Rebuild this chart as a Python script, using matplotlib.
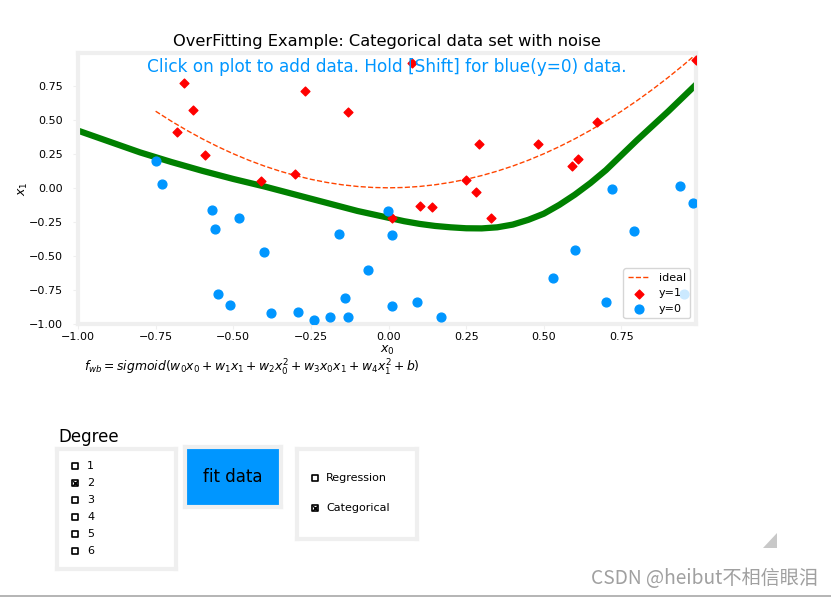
import matplotlib
matplotlib.use("Agg")
import matplotlib.pyplot as plt
from matplotlib.lines import Line2D
from matplotlib.patches import Polygon

dlblue = '#0096ff'
framegray = '#efefef'

# ---- data ----
pos_x0 = [-0.66, -0.63, -0.68, -0.59, -0.41, -0.27, -0.13, -0.30, 0.074, 0.29, 0.48, 0.25,
          0.28, 0.33, 0.10, 0.14, 0.67, 0.61, 0.59, 0.99, 0.01]
pos_x1 = [0.77, 0.57, 0.41, 0.24, 0.05, 0.71, 0.56, 0.10, 0.92, 0.32, 0.32, 0.06,
          -0.03, -0.22, -0.13, -0.14, 0.48, 0.21, 0.16, 0.94, -0.22]

neg_x0 = [-0.75, -0.73, -0.57, -0.56, -0.48, -0.40, -0.55, -0.51, -0.38, -0.29, -0.24, -0.19,
          -0.13, -0.14, -0.16, -0.065, -0.003, 0.01, 0.01, 0.09, 0.17, 0.53, 0.60, 0.70,
          0.72, 0.79, 0.94, 0.98, 0.95]
neg_x1 = [0.20, 0.03, -0.16, -0.30, -0.22, -0.47, -0.78, -0.86, -0.92, -0.91, -0.97, -0.95,
          -0.95, -0.81, -0.34, -0.60, -0.17, -0.35, -0.87, -0.84, -0.95, -0.66, -0.46, -0.84,
          -0.01, -0.32, 0.01, -0.11, -0.78]

ideal_x = [-0.75, -0.7, -0.65, -0.6, -0.55, -0.5, -0.45, -0.4, -0.35, -0.3, -0.25, -0.2,
           -0.15, -0.1, -0.05, 0.0, 0.05, 0.1, 0.15, 0.2, 0.25, 0.3, 0.35, 0.4, 0.45, 0.5,
           0.55, 0.6, 0.65, 0.7, 0.75, 0.8, 0.85, 0.9, 0.95, 1.0]
ideal_y = [0.5625, 0.49, 0.4225, 0.36, 0.3025, 0.25, 0.2025, 0.16, 0.1225, 0.09, 0.0625, 0.04,
           0.0225, 0.01, 0.0025, 0.0, 0.0025, 0.01, 0.0225, 0.04, 0.0625, 0.09, 0.1225, 0.16,
           0.2025, 0.25, 0.3025, 0.36, 0.4225, 0.49, 0.5625, 0.64, 0.7225, 0.81, 0.9025, 1.0]

fit_x = [-1.0, -0.9, -0.8, -0.7, -0.6, -0.5, -0.4, -0.3, -0.2, -0.1, 0.0, 0.05, 0.1, 0.15,
         0.2, 0.25, 0.3, 0.35, 0.4, 0.45, 0.5, 0.55, 0.6, 0.65, 0.7, 0.75, 0.8, 0.85, 0.9,
         0.95, 1.0]
fit_y = [0.42, 0.34, 0.26, 0.19, 0.125, 0.065, 0.01, -0.05, -0.11, -0.17, -0.22, -0.245,
         -0.265, -0.28, -0.29, -0.297, -0.298, -0.29, -0.27, -0.235, -0.19, -0.125, -0.05,
         0.035, 0.13, 0.24, 0.35, 0.455, 0.56, 0.67, 0.78]

degree_labels = ['1', '2', '3', '4', '5', '6']
degree_checked = [False, True, False, False, False, False]
mode_labels = ['Regression', 'Categorical']
mode_checked = [False, True]

title = 'OverFitting Example: Categorical data set with noise'
instr = 'Click on plot to add data. Hold [Shift] for blue(y=0) data.'
formula = r'$f_{wb} = sigmoid(w_0x_0 + w_1x_1 + w_2x_0^2 + w_3x_0x_1 + w_4x_1^2 + b)$'

W, H = 831, 598
fig = plt.figure(figsize=(W / 100, H / 100), dpi=100)


def fx(px):
    return px / W


def fy(py):
    return 1 - py / H


# ---- main axes ----
ax = fig.add_axes([fx(78), fy(324), fx(696) - fx(78), fy(53) - fy(324)])
for s in ax.spines.values():
    s.set_color(framegray)
    s.set_linewidth(3)
ax.tick_params(labelsize=8, color=framegray, length=3.5)
ax.tick_params(axis='y', pad=7.5)
ax.tick_params(axis='x', pad=2.5)
ax.set_xlim(-1.0, 0.99)
ax.set_ylim(-1.0, 0.99)
ax.set_xticks([-1.0, -0.75, -0.5, -0.25, 0.0, 0.25, 0.5, 0.75])
ax.set_yticks([-1.0, -0.75, -0.5, -0.25, 0.0, 0.25, 0.5, 0.75])
ax.set_xlabel('$x_0$', fontsize=9, labelpad=1)
ax.set_ylabel('$x_1$', fontsize=9, labelpad=-1)
ax.set_title(title, fontsize=11.7, pad=5)

ax.plot(ideal_x, ideal_y, '--', color='orangered', lw=1, label='ideal', zorder=2)
ax.plot(fit_x, fit_y, color='green', lw=4.5, zorder=2, solid_joinstyle='round')
ax.scatter(pos_x0, pos_x1, marker='D', s=20, c='red', label='y=1', zorder=3)
ax.scatter(neg_x0, neg_x1, marker='o', s=40, c=dlblue, label='y=0', zorder=3)
ax.text(0.5, 0.948, instr, transform=ax.transAxes, ha='center', va='center',
        fontsize=12.2, color=dlblue, zorder=5)
ax.legend(loc='lower right', fontsize=8)

fig.text(fx(84), fy(368), formula, fontsize=8.9, ha='left', va='center')


# ---- widgets ----
def widget_axes(x0, y0, x1, y1, face='white'):
    a = fig.add_axes([fx(x0), fy(y1), fx(x1) - fx(x0), fy(y0) - fy(y1)])
    a.set_xticks([])
    a.set_yticks([])
    a.set_xlim(0, 1)
    a.set_ylim(0, 1)
    a.set_facecolor(face)
    for s in a.spines.values():
        s.set_color(framegray)
        s.set_linewidth(3)
    return a


def checkbox(a, x, y, checked):
    a.scatter([x], [y], marker='s', s=22, facecolors='white', edgecolors='black',
              linewidths=1.2, zorder=3)
    if checked:
        a.scatter([x], [y], marker='x', s=11, c='black', linewidths=1.0, zorder=4)


fig.text(fx(58), fy(437), 'Degree', fontsize=12, ha='left', va='center')
deg_ax = widget_axes(57, 449, 176, 569)
for i, (lab, chk) in enumerate(zip(degree_labels, degree_checked)):
    py = 466 + 17 * i
    yy = (569 - py) / 120
    checkbox(deg_ax, (75 - 57) / 119, yy, chk)
    deg_ax.text((87 - 57) / 119, yy, lab, fontsize=8, ha='left', va='center')

btn_ax = widget_axes(185, 447, 281, 507, face=dlblue)
btn_ax.text(0.5, 0.5, 'fit data', fontsize=12, ha='center', va='center')

mode_ax = widget_axes(297, 449, 417, 539)
for lab, chk, py in zip(mode_labels, mode_checked, [478, 508]):
    yy = (539 - py) / 90
    checkbox(mode_ax, (315 - 297) / 120, yy, chk)
    mode_ax.text((326 - 297) / 120, yy, lab, fontsize=8, ha='left', va='center')

# ---- watermark, resize handle, bottom rule ----
fig.text(fx(818), fy(579), 'CSDN @heibut不相信眼泪', fontsize=13.8, ha='right', va='center',
         color='#a0a0a0', family=['Noto Sans CJK SC', 'DejaVu Sans'])
fig.patches.append(Polygon([[fx(763), fy(548)], [fx(777), fy(548)], [fx(777), fy(533)]],
                           closed=True, facecolor='#c8c8c8', edgecolor='none',
                           transform=fig.transFigure, figure=fig))
fig.add_artist(Line2D([0, 1], [fy(596), fy(596)], color='#a8a8a8', lw=1.2,
                      transform=fig.transFigure))

fig.savefig('out.png', dpi=100)
